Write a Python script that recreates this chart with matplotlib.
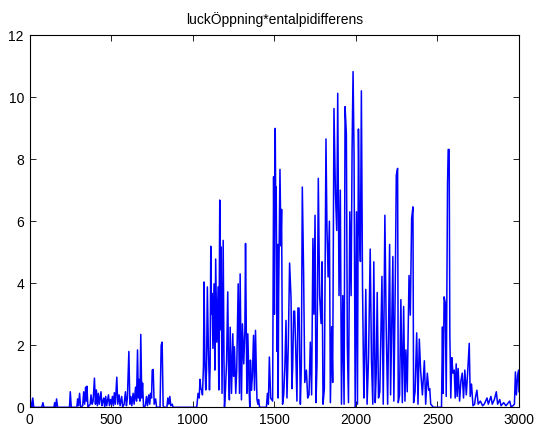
import matplotlib
matplotlib.use("Agg")
from matplotlib import pyplot as plt

# signal: sample index and value
sample = [0, 8, 14, 20, 26, 75, 82, 88, 150, 154, 160, 166, 172, 245, 250, 256,
          290, 295, 300, 307, 313, 326, 332, 338, 344, 348, 352, 358, 372, 377,
          384, 390, 398, 404, 410, 416, 422, 428, 438, 444, 450, 455, 461, 467,
          473, 478, 484, 490, 496, 502, 508, 514, 520, 526, 535, 541, 549, 555,
          565, 571, 580, 588, 594, 600, 609, 615, 621, 627, 635, 641, 650, 656,
          662, 667, 672, 677, 682, 688, 693, 699, 710, 717, 723, 731, 737, 742,
          748, 752, 758, 764, 773, 779, 800, 807, 813, 819, 825, 842, 848, 854,
          860, 866, 875, 880, 1025,
          1033, 1040, 1045, 1050, 1055, 1060, 1066, 1070, 1075, 1080, 1085, 1090,
          1096, 1103, 1107, 1111, 1115, 1119, 1124, 1131, 1136, 1141, 1148, 1156,
          1160, 1166, 1170, 1174, 1180, 1187, 1192, 1195, 1201, 1208, 1215, 1220,
          1225, 1230, 1238, 1246, 1251, 1256, 1264, 1270, 1279, 1287, 1291, 1299,
          1305, 1313, 1320, 1324, 1332, 1338, 1346, 1350, 1354, 1360, 1366, 1373,
          1379, 1385, 1394, 1400, 1404, 1410, 1452, 1458, 1464, 1470, 1478, 1490,
          1496, 1501, 1506, 1509, 1512, 1517, 1521, 1524, 1527, 1535, 1541, 1545,
          1551, 1558, 1565, 1572, 1578, 1586, 1594, 1603, 1608, 1613, 1619, 1625,
          1631, 1639, 1645, 1652, 1660, 1666, 1672, 1680, 1687, 1697, 1705, 1713,
          1721, 1729, 1737, 1743, 1750, 1756, 1762, 1770, 1778, 1787, 1793, 1799,
          1807, 1817, 1823, 1830, 1838, 1844, 1852, 1858, 1866, 1875, 1883, 1889,
          1897, 1905, 1912, 1920, 1928, 1934, 1942, 1948, 1955, 1963, 1971, 1977,
          1983, 1989, 1996, 2004, 2010, 2016, 2022, 2028, 2034, 2041, 2049, 2055,
          2061, 2069, 2078, 2088, 2096, 2104, 2110, 2119, 2125, 2131, 2139, 2147,
          2160, 2168, 2178, 2186, 2195, 2207, 2213, 2219, 2227, 2233, 2242, 2248,
          2256, 2260, 2268, 2276, 2285, 2293, 2301, 2307, 2315, 2326, 2334, 2342,
          2350, 2354, 2363, 2373, 2381, 2389, 2397, 2408, 2420, 2428, 2438, 2447,
          2453, 2459, 2467, 2475,
          2525, 2531, 2535, 2541, 2548, 2554, 2562, 2566, 2572, 2576, 2582, 2588,
          2595, 2603, 2609, 2615, 2621, 2627, 2636, 2644, 2652, 2660, 2668, 2677,
          2685, 2691, 2695, 2701, 2709, 2718, 2728, 2734, 2742, 2750, 2763, 2777,
          2787, 2804, 2812, 2828, 2836, 2849, 2861, 2869, 2882, 2890, 2906, 2920,
          2943, 2951, 2963, 2972, 2978, 2984, 2992, 2998, 3000]

value = [0.57, 0.1, 0, 0.3, 0, 0, 0.15, 0, 0, 0.15, 0, 0.27, 0, 0, 0.5, 0,
         0, 0.27, 0.05, 0.45, 0, 0.05, 0.5, 0.1, 0.65, 0.2, 0.68, 0, 0.1, 0.4,
         0.1, 0.2, 0.94, 0.1, 0.56, 0.05, 0.45, 0.1, 0.5, 0.05, 0.2, 0.3, 0, 0.35,
         0.05, 0.2, 0.4, 0.05, 0.25, 0.1, 0.35, 0.05, 0.47, 0.1, 0.97, 0.1, 0.4, 0.05,
         0.35, 0, 0.1, 0.5, 0.05, 0.3, 1.8, 0.1, 0.35, 0.05, 0.45, 0.1, 0.65, 0.2,
         1.85, 0.3, 0.9, 0.2, 2.35, 0.3, 0.78, 0, 0.05, 0.35, 0.05, 0.4, 0.1, 0.45,
         0.3, 1.2, 1.22, 0.1, 0.27, 0, 0, 2.0, 2.1, 0.05, 0, 0, 0.3, 0.1,
         0.35, 0.05, 0.1, 0, 0,
         0.45, 0.3, 0.9, 0.6, 0.56, 0.4, 1.3, 4.04, 1.5, 0.56, 1.2, 3.88,
         1.95, 0.56, 1.3, 5.19, 3.0, 3.67, 1.9, 3.98, 1.2, 4.78, 2.1, 3.88,
         0.56, 6.68, 2.5, 5.17, 0.45, 5.38, 1.5, 0, 0.56, 1.5, 3.72, 1.2,
         0.24, 2.58, 0.45, 2.37, 1.0, 1.95, 0.45, 1.2, 3.98, 0.45, 4.3, 0.24,
         2.69, 1.4, 2.47, 5.28, 0.45, 2.37, 0.56, 0, 1.52, 0.55, 1.0, 2.32,
         0.55, 2.48, 0.25, 0.1, 0.25, 0, 0, 0.45, 0.1, 1.62, 0.3, 0.2,
         7.43, 3.0, 8.99, 6.5, 7.1, 1.8, 5.25, 0.3, 3.66, 7.67, 5.2, 6.38,
         0.1, 0.4, 1.3, 2.8, 0.3, 2.0, 4.65, 3.5, 0.6, 1.3, 3.1, 3.1,
         2.0, 0.2, 3.2, 3.2, 0.1, 1.3, 7.1, 4.3, 0.8, 1.2, 0.3, 0.4,
         2.1, 0.4, 5.44, 3.0, 6.19, 0.15, 1.4, 7.38, 3.6, 2.7, 4.69, 0.1,
         0.6, 8.65, 5.8, 4.2, 6.0, 0.15, 2.6, 0.8, 9.63, 6.9, 5.7, 10.12,
         3.6, 7.0, 0.1, 3.6, 0.1, 9.69, 8.8, 2.0, 0.15, 6.3, 3.6, 8.3,
         10.82, 8.2, 0.0, 6.3, 0.1, 8.97, 5.8, 4.7, 10.2, 3.9, 0.3, 1.6,
         3.8, 0.1, 1.6, 5.1, 1.47, 0.1, 4.69, 0.15, 1.1, 3.7, 0.3, 0.5,
         4.22, 0.1, 6.19, 2.6, 0.1, 5.25, 0.4, 2.4, 4.86, 0.2, 4.1, 7.48,
         7.7, 0.15, 0.4, 3.47, 0.15, 3.25, 0.2, 1.85, 0.5, 4.25, 2.97, 6.09,
         6.46, 0.15, 0.5, 2.4, 0.1, 2.2, 1.2, 0.4, 1.5, 0.1, 1.1, 0.55,
         0.6, 0.1, 0.05, 0,
         0, 2.59, 0.45, 3.56, 3.37, 0.35, 7.2, 8.31, 8.31, 2.4, 0.3, 1.6,
         1.1, 1.2, 0.3, 1.4, 0.35, 1.25, 0.2, 0.85, 1.1, 0.3, 1.2, 0.4,
         1.1, 1.7, 2.06, 0.35, 0.75, 0.05, 0.1, 0.35, 0.55, 0.1, 0.2, 0.05,
         0.1, 0.3, 0.1, 0.35, 0.1, 0.25, 0.5, 0.1, 0.25, 0.05, 0.15, 0.05,
         0.2, 0.02, 0.05, 0.1, 1.14, 0.4, 1.05, 1.2, 0.5]

xticks = [0, 500, 1000, 1500, 2000, 2500, 3000]
yticks = [0, 2, 4, 6, 8, 10, 12]

plt.rcParams['font.family'] = ['Liberation Sans', 'DejaVu Sans']

fig = plt.figure(figsize=(5.37, 4.26), dpi=100)
ax = fig.add_axes([29.5 / 537, 1 - 407.3 / 426, (519 - 29.5) / 537, (407.3 - 35) / 426])

ax.plot(sample, value, color='#0000ff', linewidth=1.1)

ax.set_xlim(0, 3000)
ax.set_ylim(0, 12)
ax.set_xticks(xticks)
ax.set_yticks(yticks)
ax.tick_params(direction='in', top=True, right=True, length=4, width=0.6,
               labelsize=10, pad=4)
for sp in ax.spines.values():
    sp.set_linewidth(0.8)
ax.set_title('luckÖppning*entalpidifferens', fontsize=10, pad=8)

fig.savefig('out.png', dpi=100)
